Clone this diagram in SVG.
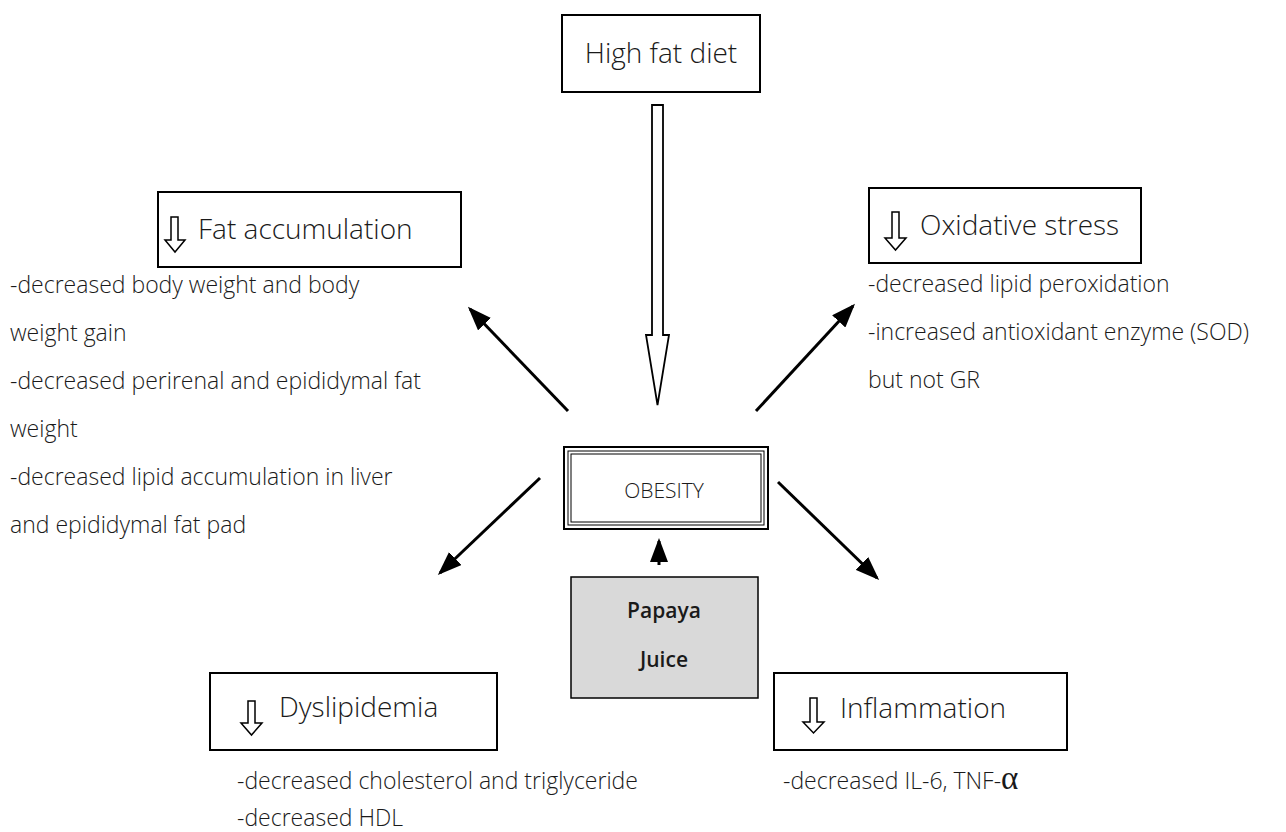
<svg xmlns="http://www.w3.org/2000/svg" width="1286" height="832" viewBox="0 0 1286 832">
<defs>
<marker id="ah" markerWidth="8" markerHeight="6" refX="7" refY="3" orient="auto" markerUnits="strokeWidth">
<path d="M0,0 L8,3 L0,6 Z" fill="#000"/>
</marker>
<style>
.box{fill:#fff;stroke:#000;stroke-width:2}
.h{font-family:"Open Sans","Noto Sans",sans-serif;font-size:28px;fill:#1a1a1a;font-weight:300}
.t{font-family:"Open Sans","Noto Sans",sans-serif;font-size:23px;fill:#1a1a1a;font-weight:300}
.ic{fill:#fff;stroke:#000;stroke-width:1.5}
.con{stroke:#000;stroke-width:3;fill:none}
</style>
</defs>
<rect width="1286" height="832" fill="#fff"/>
<g id="connectors">
<path d="M652,105 L663,105 L663,335 L669,335 L657.5,405 L646,335 L652,335 Z" fill="#fff" stroke="#000" stroke-width="1.8"/>
<line class="con" x1="568" y1="411" x2="470" y2="309" marker-end="url(#ah)"/>
<line class="con" x1="756" y1="411" x2="853" y2="306" marker-end="url(#ah)"/>
<line class="con" x1="540" y1="478" x2="440" y2="573" marker-end="url(#ah)"/>
<line class="con" x1="778" y1="482" x2="877" y2="578" marker-end="url(#ah)"/>
<line class="con" x1="659" y1="565" x2="659" y2="541" marker-end="url(#ah)"/>
</g>
<g id="highfat">
<rect class="box" x="562" y="15" width="198" height="77"/>
<text class="h" x="661" y="63" text-anchor="middle">High fat diet</text>
</g>
<g id="fat">
<rect class="box" x="158" y="192" width="303" height="75"/>
<path class="ic" d="M171,217 L178,217 L178,240 L185,240 L175,252 L165,240 L171,240 Z"/>
<text class="h" x="198" y="239">Fat accumulation</text>
<text class="t" x="10" y="293">-decreased body weight and body</text>
<text class="t" x="10" y="341">weight gain</text>
<text class="t" x="10" y="389">-decreased perirenal and epididymal fat</text>
<text class="t" x="10" y="437">weight</text>
<text class="t" x="10" y="485">-decreased lipid accumulation in liver</text>
<text class="t" x="10" y="533">and epididymal fat pad</text>
</g>
<g id="oxidative">
<rect class="box" x="869" y="188" width="272" height="75"/>
<path class="ic" d="M892,212 L899,212 L899,238 L906,238 L895.5,250 L885,238 L892,238 Z"/>
<text class="h" x="920" y="235">Oxidative stress</text>
<text class="t" x="868" y="292">-decreased lipid peroxidation</text>
<text class="t" x="868" y="340">-increased antioxidant enzyme (SOD)</text>
<text class="t" x="868" y="388">but not GR</text>
</g>
<g id="obesity">
<rect x="564" y="447" width="204" height="82" fill="#fff" stroke="#000" stroke-width="2"/>
<rect x="568" y="451" width="196" height="74" fill="none" stroke="#000" stroke-width="1"/>
<rect x="571" y="454" width="190" height="68" fill="none" stroke="#000" stroke-width="1"/>
<text x="664" y="498" text-anchor="middle" font-family="Open Sans, Noto Sans, sans-serif" font-size="21" font-weight="300" fill="#1a1a1a">OBESITY</text>
</g>
<g id="papaya">
<rect x="571" y="577" width="187" height="121" fill="#d9d9d9" stroke="#000" stroke-width="1.5"/>
<text x="664" y="618" text-anchor="middle" font-family="Open Sans, Noto Sans, sans-serif" font-size="21" font-weight="600" fill="#1a1a1a">Papaya</text>
<text x="664" y="667" text-anchor="middle" font-family="Open Sans, Noto Sans, sans-serif" font-size="21" font-weight="600" fill="#1a1a1a">Juice</text>
</g>
<g id="dyslipidemia">
<rect class="box" x="210" y="673" width="287" height="77"/>
<path class="ic" d="M248,701 L255,701 L255,723 L262,723 L251.5,735 L241,723 L248,723 Z"/>
<text class="h" x="279" y="717">Dyslipidemia</text>
<text class="t" x="237" y="789">-decreased cholesterol and triglyceride</text>
<text class="t" x="237" y="826">-decreased HDL</text>
</g>
<g id="inflammation">
<rect class="box" x="774" y="673" width="293" height="77"/>
<path class="ic" d="M810,698 L817,698 L817,722 L824,722 L813.5,733 L803,722 L810,722 Z"/>
<text class="h" x="840" y="718">Inflammation</text>
<text class="t" x="783" y="789">-decreased IL-6, TNF-<tspan font-family="Liberation Serif, serif" font-size="33">α</tspan></text>
</g>
</svg>
